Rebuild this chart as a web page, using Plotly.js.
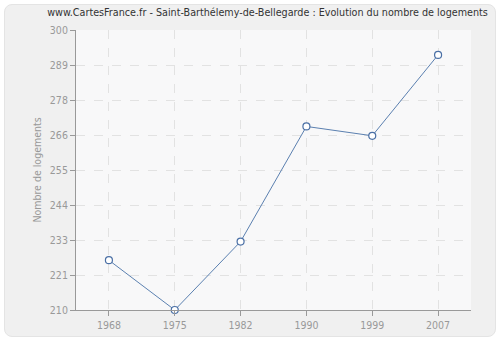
<!DOCTYPE html>
<html><head><meta charset="utf-8">
<script src="https://cdn.plot.ly/plotly-3.0.1.min.js"></script>
<style>
html,body{margin:0;padding:0;background:#fff;}
#bg{position:absolute;left:4px;top:4px;width:490px;height:331px;background:#f0f0f0;border:1px solid #e4e4e4;border-radius:8px;}
#chart{position:absolute;left:0;top:0;width:500px;height:340px;}
</style></head>
<body>
<div id="bg"></div>
<div id="chart"></div>
<script>
const years = ["1968","1975","1982","1990","1999","2007"];
const logements = [226, 210, 232, 269, 266, 292];
const yTickVals = [210, 221.25, 232.5, 243.75, 255, 266.25, 277.5, 288.75, 300];
const yTickText = ["210","221","233","244","255","266","278","289","300"];

const tickFont = {family: 'DejaVu Sans Condensed, DejaVu Sans, sans-serif', size: 10.5, color: '#999'};

Plotly.newPlot('chart', [{
  x: years, y: logements, type: 'scatter', mode: 'lines+markers',
  line: {color: '#5b80b0', width: 1},
  marker: {symbol: 'circle', size: 7, color: '#ffffff', line: {color: '#4a6fa5', width: 1.2}},
  cliponaxis: false, hoverinfo: 'skip'
}], {
  width: 500, height: 340,
  margin: {l: 76, r: 29, t: 30, b: 30},
  paper_bgcolor: 'rgba(0,0,0,0)',
  plot_bgcolor: '#f8f8f9',
  showlegend: false,
  title: {text: 'www.CartesFrance.fr - Saint-Barthélemy-de-Bellegarde : Evolution du nombre de logements',
          font: {family: 'DejaVu Sans Condensed, DejaVu Sans, sans-serif', size: 10.7, color: '#333'},
          x: 0.535, xanchor: 'center', y: 0.965, yanchor: 'middle'},
  xaxis: {type: 'category', range: [-0.5, 5.5], showgrid: true, gridcolor: '#e2e2e2', griddash: 'dash',
          showline: true, linecolor: '#999', linewidth: 1, ticks: 'outside', ticklen: 5, tickcolor: '#999',
          tickfont: tickFont, zeroline: false, fixedrange: true},
  yaxis: {range: [210, 300], tickvals: yTickVals, ticktext: yTickText, showgrid: true, gridcolor: '#e2e2e2', griddash: 'dash',
          showline: true, linecolor: '#999', linewidth: 1, ticks: 'outside', ticklen: 5, tickcolor: '#999',
          tickfont: tickFont, zeroline: false,
          title: {text: 'Nombre de logements', font: {family: 'DejaVu Sans Condensed, DejaVu Sans, sans-serif', size: 10.5, color: '#999'}, standoff: 6},
          fixedrange: true}
}, {displayModeBar: false, staticPlot: true});
</script>
</body></html>
